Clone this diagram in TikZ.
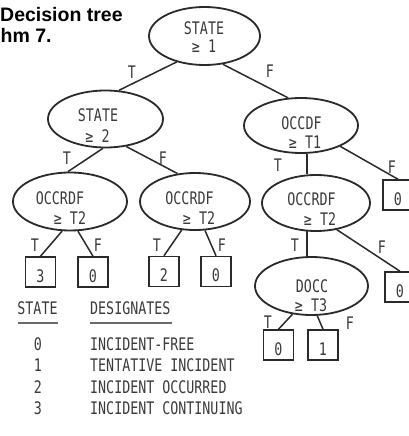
\documentclass[tikz,border=0pt]{standalone}
\usepackage{fontspec}
\usetikzlibrary{shapes.geometric}
% line-printer style lettering for the tree and the table
\newfontfamily\lpfont[FakeStretch=0.77]{DejaVu Sans Mono}
\newfontfamily\capfont{Liberation Sans}
\definecolor{ink}{HTML}{2A2A2A}
\definecolor{txt}{HTML}{3A3A3A}
\definecolor{rulegray}{HTML}{6A6A6A}
\begin{document}
\begin{tikzpicture}[x=1pt,y=-1pt,
  lp/.style={font=\lpfont\fontsize{17.3}{19}\selectfont, text=txt, inner sep=0pt},
  ell/.style={draw=ink, line width=1.8pt, ellipse, inner sep=0pt},
  leaf/.style={lp, draw=ink, line width=1.5pt, rectangle, minimum width=30pt,
    minimum height=30pt, text height=20pt, text depth=0pt},
  link/.style={draw=ink, line width=1.5pt},
  title/.style={font=\capfont\bfseries\fontsize{19.5}{23}\selectfont,
    anchor=base west, inner sep=0pt},
]
\useasboundingbox (0,0) rectangle (409,436);

% caption fragment
\node[title] (cap1) at (0,22) {Decision tree};
\node[title] (cap2) at (0.5,42) {hm 7.};

% decision nodes
\node[ell, minimum width=111pt, minimum height=58pt] (root) at (204.5,36) {};
\node[ell, minimum width=115pt, minimum height=57pt] (s2) at (105.5,119) {};
\node[ell, minimum width=114pt, minimum height=55pt] (o1) at (301,125.5) {};
\node[ell, minimum width=114pt, minimum height=58pt] (r1) at (70,201.5) {};
\node[ell, minimum width=110pt, minimum height=57pt] (r2) at (195,201.5) {};
\node[ell, minimum width=108pt, minimum height=56pt] (r3) at (316,203) {};
\node[ell, minimum width=113pt, minimum height=58pt] (d) at (311.5,286) {};

% text inside the decision nodes
\node[lp] (root-a) at (204,28.5) {STATE};
\node[lp] (root-b) at (204,46.5) {≥ 1};
\node[lp] (s2-a) at (98,115) {STATE};
\node[lp] (s2-b) at (97.5,136) {≥ 2};
\node[lp] (o1-a) at (301.5,123.5) {OCCDF};
\node[lp] (o1-b) at (305,142) {≥ T1};
\node[lp] (r1-a) at (60,198) {OCCRDF};
\node[lp] (r1-b) at (70,218) {≥ T2};
\node[lp] (r2-a) at (189.5,198) {OCCRDF};
\node[lp] (r2-b) at (199,218) {≥ T2};
\node[lp] (r3-a) at (311.5,199) {OCCRDF};
\node[lp] (r3-b) at (320,219) {≥ T2};
\node[lp] (d-a) at (312,286) {DOCC};
\node[lp] (d-b) at (311,305.5) {≥ T3};

% result states
\node[leaf] (b1) at (40.5,272) {3};
\node[leaf] (b2) at (93,272) {0};
\node[leaf] (b3) at (164,271.5) {2};
\node[leaf] (b4) at (216,271.5) {0};
\node[leaf] (b5) at (398,195) {0};
\node[leaf] (b6) at (400,287) {0};
\node[leaf] (b7) at (278.5,345) {0};
\node[leaf] (b8) at (323,345) {1};

% branches
\draw[link] (root.223) -- (s2.65);
\draw[link] (root.303) -- (o1.115);
\draw[link] (s2.265) -- (r1.94);
\draw[link] (s2.307) -- (r2.122);
\draw[link] (o1.282) -- (o1.282 |- r3.north);
\draw[link] (o1.332) -- (b5.north);
\draw[link] (r1.255) -- (b1.north);
\draw[link] (r1.285) -- (b2.north);
\draw[link] (r2.245) -- (b3.north);
\draw[link] (r2.289) -- (b4.north);
\draw[link] (r3.252) -- (r3.252 |- d.north);
\draw[link] (r3.308) -- (b6.north);
\draw[link] (d.236) -- (b7.north);
\draw[link] (d.281) -- (b8.north);

% branch labels
\node[lp] (t1) at (132,72) {T};
\node[lp] (f1) at (270,71) {F};
\node[lp] (t2) at (67,158) {T};
\node[lp] (f2) at (163,158) {F};
\node[lp] (t3) at (278,165) {T};
\node[lp] (f3) at (392,167) {F};
\node[lp] (t4) at (35,245) {T};
\node[lp] (f4) at (98,245) {F};
\node[lp] (t5) at (157,245) {T};
\node[lp] (f5) at (222,245) {F};
\node[lp] (t6) at (295,245) {T};
\node[lp] (f6) at (382,247) {F};
\node[lp] (t7) at (268,322) {T};
\node[lp] (f7) at (350,323) {F};

% legend table
\node[lp] (hs) at (37.5,308) {STATE};
\node[lp, anchor=west] (hd) at (90,308) {DESIGNATES};
\draw[rulegray, line width=1.4pt] (18,323) -- (58,323);
\draw[rulegray, line width=1.4pt] (90,323) -- (172,323);
\node[lp] (k0) at (38,344) {0};
\node[lp, anchor=west] (v0) at (90,344) {INCIDENT-FREE};
\node[lp] (k1) at (38,365) {1};
\node[lp, anchor=west] (v1) at (90,365) {TENTATIVE INCIDENT};
\node[lp] (k2) at (38,387) {2};
\node[lp, anchor=west] (v2) at (90,387) {INCIDENT OCCURRED};
\node[lp] (k3) at (38,408) {3};
\node[lp, anchor=west] (v3) at (90,408) {INCIDENT CONTINUING};
\end{tikzpicture}
\end{document}
